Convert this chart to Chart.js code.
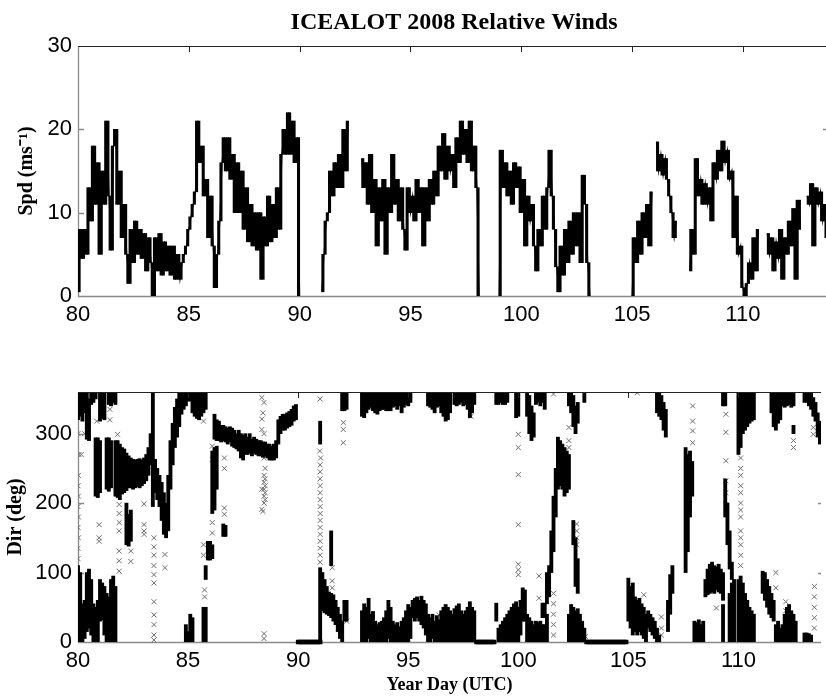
<!DOCTYPE html>
<html><head><meta charset="utf-8">
<script src="https://cdn.jsdelivr.net/npm/chart.js@4"></script>
<style>
html,body{margin:0;padding:0;background:#fff;width:826px;height:698px;overflow:hidden}
canvas{position:absolute;left:0}
</style></head><body>
<canvas id="spd" width="826" height="330" style="top:0"></canvas>
<canvas id="dir" width="826" height="358" style="top:340px"></canvas>
<script>
const titleText = 'ICEALOT 2008 Relative Winds';
const spdTitle = 'Spd (ms\u207B\u00B9)';
const dirTitle = 'Dir (deg)';
const xTitle = 'Year Day (UTC)';
const xTicks = [80, 85, 90, 95, 100, 105, 110];
const spdTicks = [0, 10, 20, 30];
const dirTicks = [0, 100, 200, 300];
const dayMin = 80, dayMax = 113.75;

// wind speed, one value every 0.1 day starting at day 80.0 (null = no data)
const spdStartDay = 80.0, spdStepDay = 0.1;
const spdValues = [
  0.5, 8, 4.5, 8, 5, 13, 9, 18, 11, 16,
  5, 15, 11, 21, 12, 5.5, 18, 20, 11, 15,
  7, 11, 5, 1.5, 8, 4, 9, 5, 8, 4.5,
  7.5, 3, 7, 4, 0, 7, 3, 7.5, 2.5, 6.5,
  3, 6, 2.5, 6, 2, 5, 2, 4, 5, 6,
  8, 9.5, 11, 12.5, 21, 16, 18, 12, 14, 7,
  12, 6, 1, 5, 9, 16, 19, 15, 19, 14,
  17, 10, 16, 10, 15, 8, 13, 6.5, 11, 6,
  10, 5.5, 10, 2, 9.5, 6, 12, 6.5, 11, 7,
  13, 8, 17, 20, 17, 22, 17, 21, 16, 19,
  0, null, null, null, null, null, null, null, null, null,
  0.5, 5, 9, 10, 15, 12, 16, 13, 17, 13,
  20, 15, 21, null, null, null, null, null, 16.5, 13,
  16, 11, 17, 10, 14, 6, 13, 9, 14, 5,
  13, 10, 17, 11, 14, 9, 13, 8, 5.5, 13,
  10, 12, 9, 14, 10, 13, 6, 13, 9, 14,
  11, 15, 12, 18, 15, 19.5, 14, 18, 15, 17,
  13, 19, 16, 21, 17, 20, 16, 21, 15, 18,
  13, 0, null, null, null, null, null, null, null, null,
  0, 17.5, 13, 16, 12, 15, 11, 16, 13, 15.5,
  10, 14, 6, 12, 9, 11, 6, 3, 8, 6,
  12, 8, 13, 17.5, 12, 8, 3.5, 0.5, 6, 2.5,
  8, 4, 9, 5, 10, 6, 10, 4, 14.5, 11,
  4, 0, null, null, null, null, null, null, null, null,
  null, null, null, null, null, null, null, null, null, null,
  0, 7, 4, 9, 5, 10, 7, 11, 6, 12.5,
  null, 18.5, 15, 17, 14.5, 16.5, 14, 12, 10, 7,
  9, null, null, null, null, null, 3, 8, 5, 16.5,
  12, 14, 11, 13.5, 11, 13, 9, 16, 14, 17.5,
  15, 18.6, 16, 17.5, 14, 15, 7, 12, 5, 6,
  1, 0, 1.5, 4, 2, 7, 3, 8, null, null,
  null, 7.5, 5, 7, 3, 6.5, 4.5, 8, 2, 7,
  5, 9, 6, 10.5, 2, 11.5, 8, null, null, 12,
  11, 13.5, 6, 13, 11, 12.5, 9, 11, 7
];

// wind direction bands: [first day, [[low, high] every 0.1 day ...]]
const dirRuns = [
  [80.0, [[320,360],[325,360],[318,360],[330,360],[292,360],[290,350],[342,360],[345,360],[350,360]]],
  [80.8, [[210,294],[208,294],[215,290]]],
  [81.0, [[318,360],[322,360],[320,360]]],
  [81.3, [[220,294],[217,294],[222,290]]],
  [81.4, [[342,360],[340,360],[345,360],[342,360]]],
  [81.7, [[210,290],[208,290],[205,285],[213,280],[215,278],[218,272],[222,268],[222,265],[220,263],[222,262],[224,263],[222,264],[225,262],[228,265],[232,270],[240,280],[255,300]]],
  [82.2, [[140,200],[138,184],[145,190]]],
  [83.4, [[195,360]]],
  [83.5, [[215,263],[205,250],[195,240],[175,230],[155,215],[150,200],[160,240],[220,290],[255,315],[280,338],[295,350],[310,360],[328,360],[335,360],[340,360],[347,360],[347,360],[330,360],[325,360],[322,360],[320,360],[325,360],[330,360],[335,360]]],
  [80.0, [[0,110],[0,100],[0,55],[5,60],[15,100],[20,105],[10,90],[0,55],[0,50],[0,60],[30,90],[32,85],[10,80],[0,70],[0,65],[0,90],[0,95],[0,80]]],
  [84.9, [[0,25],[0,15],[0,40],[0,35]]],
  [85.7, [[0,50],[0,50],[118,145],[118,145],[120,140]]],
  [85.8, [[90,110]]],
  [86.1, [[185,275],[190,280],[220,282]]],
  [86.6, [[152,170],[152,168]]],
  [86.2, [[292,328],[290,320],[290,318],[288,312],[290,312],[288,310],[285,308],[288,310],[282,308],[280,305],[278,300],[275,305],[265,300],[262,298],[270,300],[270,295],[272,300],[268,292],[272,295],[270,292],[268,290],[268,290],[266,288],[268,288],[265,285],[262,285],[262,282],[262,285],[265,290],[285,320],[300,325],[305,328],[305,328],[308,330],[310,332],[312,335],[318,340],[320,342]]],
  [91.0, [[0,107]]],
  [91.0, [[285,318]]],
  [91.1, [[45,100],[42,90],[40,80],[38,72],[35,70],[30,68],[25,60],[15,50],[5,40],[0,30],[30,60],[30,60]]],
  [91.5, [[110,160]]],
  [92.0, [[333,360],[333,360],[335,360]]],
  [92.9, [[325,360],[323,360],[330,360],[335,360],[338,360],[333,360],[330,360],[328,360],[333,360],[335,360],[335,360],[333,360],[333,360],[333,360],[338,360],[340,360],[335,360],[340,360],[330,360],[338,360],[342,360],[340,360],[345,360]]],
  [92.9, [[0,45],[0,55],[0,50],[5,63],[0,40],[0,44],[0,30],[0,25],[0,28],[0,30],[0,35],[0,45],[5,60],[0,50],[0,30],[0,25],[0,28],[0,22],[0,30],[0,35],[0,45],[0,54],[5,50],[35,60],[30,63],[35,65],[30,60],[25,66],[20,60],[10,55],[0,40],[0,35],[5,40],[0,30],[0,38],[0,32],[0,45],[0,50],[0,54],[0,50],[0,45],[0,40],[0,48],[0,52],[0,55],[0,45],[0,40],[0,45],[0,50],[0,58],[0,50],[0,45]]],
  [95.9, [[340,360],[338,360],[335,360],[330,360],[338,360],[340,360],[330,360],[325,360],[318,360],[320,360],[330,360]]],
  [97.1, [[342,360],[340,360],[342,360],[345,360],[340,360],[342,360],[335,360],[323,360],[330,360],[342,360]]],
  [99.0, [[342,360],[342,360],[345,360],[342,360],[342,360],[345,360]]],
  [99.0, [[30,56],[0,20],[0,25],[0,30],[0,35],[0,40],[0,45],[0,50],[0,55],[0,58],[0,50],[10,60],[30,78],[30,75],[0,40],[0,35],[0,30],[0,25],[0,30],[0,28],[0,30],[35,56],[35,56],[0,40]]],
  [101.1, [[0,25],[0,25]]],
  [99.9, [[323,360],[325,360]]],
  [100.4, [[325,360],[300,355],[290,340],[295,330],[342,360],[345,360],[340,360],[345,360],[335,360]]],
  [101.3, [[55,100],[65,110],[100,160],[130,210],[180,250],[220,295],[225,290],[220,285],[210,280],[215,275],[220,270]]],
  [102.3, [[340,360],[330,360],[310,355],[300,340],[315,345]]],
  [102.5, [[140,175],[80,150],[70,120]]],
  [102.3, [[0,40],[0,54],[0,50],[0,45],[0,48],[0,40],[0,30],[0,20]]],
  [103.0, [[345,358]]],
  [105.0, [[30,92],[20,80],[10,85],[15,65],[10,60],[15,63],[10,55],[5,50],[0,40],[20,45],[15,40],[10,35],[5,30],[0,20],[0,10]]],
  [106.8, [[15,60],[40,97],[70,110]]],
  [106.3, [[330,360],[325,360],[320,355],[305,345],[295,335]]],
  [107.6, [[100,280],[130,270],[180,275],[210,260]]],
  [108.0, [[0,30],[0,28],[0,32],[0,25],[0,30]]],
  [108.5, [[65,90],[68,105],[70,112],[72,115],[70,110],[75,108],[72,112],[70,105],[60,100]]],
  [109.3, [[340,360],[340,360]]],
  [109.4, [[180,235],[140,200],[105,160],[90,115]]],
  [109.3, [[0,54]]],
  [109.6, [[0,70],[0,85],[0,90]]],
  [110.0, [[270,360],[280,360],[300,360],[305,360],[310,360],[315,360],[318,360],[320,360]]],
  [110.0, [[0,90],[0,95],[0,85],[0,70],[0,60],[0,50],[0,45],[0,40]]],
  [111.1, [[70,102],[60,100],[50,90],[40,80],[35,70],[30,60]]],
  [111.5, [[330,360],[310,360],[305,360],[315,360],[320,360],[340,360],[338,360],[340,360],[342,360],[338,360],[340,360]]],
  [111.7, [[0,25],[0,30],[0,20],[0,25],[0,40],[0,50],[0,54],[0,45],[0,40],[0,30]]],
  [112.5, [[300,312]]],
  [113.0, [[0,13],[0,13],[0,12],[0,10]]],
  [113.0, [[345,360],[345,360],[340,360],[335,358],[325,352],[318,345],[295,330],[285,318]]]
];

// days where direction was logged as 0 (no data)
const dirZeroDays = [
  90.0, 90.1, 90.2, 90.3, 90.4, 90.5, 90.6, 90.7, 90.8, 90.9, 91.0,
  98.1, 98.2, 98.3, 98.4, 98.5, 98.6, 98.7, 98.8, 98.9,
  103.1, 103.2, 103.3, 103.4, 103.5, 103.6, 103.7, 103.8, 103.9, 104.0,
  104.1, 104.2, 104.3, 104.4, 104.5, 104.6, 104.7, 104.8, 104.9
];

// isolated direction readings [day, dir]
const dirScatter = [
  [80.0,120],[80.0,135],[80.02,150],[80.0,165],[80.02,180],[80.0,195],[80.02,210],[80.0,225],[80.02,240],[80.0,300],[80.04,270],[80.15,270],[80.3,300],
  [80.85,318],[80.96,169],[80.96,150],[80.96,145],[81.45,320],[81.45,335],[81.8,299],
  [81.87,198],[81.87,185],[81.87,172],[81.87,160],[81.87,131],[81.87,117],[81.87,102],
  [82.4,131],[82.4,116],[83.0,199],[83.0,169],[83.0,160],[83.0,155],
  [83.45,150],[83.45,137],[83.45,125],[83.45,110],[83.45,97],[83.45,85],[83.45,58],[83.45,39],[83.45,25],[83.45,10],[83.45,3],
  [83.95,126],[83.95,107],[85.7,318],[85.7,140],[85.7,125],[85.75,75],[85.75,65],
  [86.1,263],[86.1,282],[86.1,172],[86.1,157],[86.65,250],[86.65,265],[86.65,193],[86.65,184],
  [88.35,352],[88.35,321],[88.35,306],[88.35,220],[88.35,191],
  [88.45,200],[88.45,210],[88.45,220],[88.45,230],[88.45,240],[88.5,205],[88.5,215],[88.5,225],[88.5,235],[88.5,250],
  [88.4,188],[88.45,265],[88.45,280],[88.45,300],[88.4,330],[88.45,345],[88.45,5],[88.45,12],
  [91.0,350],[91.0,255],[91.0,245],[91.0,235],[91.0,225],[91.0,215],[91.0,205],[91.0,195],[91.0,185],[91.0,175],
  [91.0,165],[91.0,155],[91.0,145],[91.0,135],[91.0,125],[91.0,115],[90.98,275],[91.02,265],
  [91.55,107],[91.55,88],[91.55,78],[92.05,316],[92.05,306],[92.05,287],[92.2,30],
  [96.4,39],[96.95,36],[97.85,325],
  [100.0,299],[100.0,280],[100.0,241],[100.0,169],[100.0,112],[100.0,104],[100.0,97],
  [100.94,95],[100.94,63],[101.6,357],[101.6,70],[101.6,55],[101.6,40],[101.6,25],[101.6,10],
  [102.3,309],[102.3,290],[102.3,280],[102.65,170],[102.65,160],[102.65,150],[102.65,140],[103.05,8],
  [105.4,359],[105.7,68],[106.5,36],[106.5,20],[106.5,10],
  [107.92,340],[107.92,318],[107.92,304],[107.92,287],
  [109.0,49],[109.43,328],[109.43,302],[109.43,261],[109.43,232],[109.43,215],[109.43,198],
  [110.1,265],[110.1,250],[110.1,240],[110.1,225],[110.1,215],[110.1,200],[110.1,190],[110.1,180],[110.1,160],[110.1,150],[110.1,140],[110.1,125],[110.1,110],
  [111.7,100],[111.7,78],[112.15,58],[112.15,45],[112.5,290],[112.5,280],
  [113.4,309],[113.4,299],[113.45,80],[113.45,65],[113.45,50],[113.45,35],[113.45,20]
];

// ---------- build chart data ----------
const r1 = v => Math.round(v * 100) / 100;
const spdData = spdValues.map((v, i) => ({ x: r1(spdStartDay + i * spdStepDay), y: v }));
// the dense 1-minute trace fills the band between consecutive samples
const spdFill = [];
for (let i = 0; i + 1 < spdValues.length; i++) {
  const a = spdValues[i], b = spdValues[i + 1];
  if (a === null || b === null) continue;
  spdFill.push({ x: r1(spdStartDay + (i + 0.5) * spdStepDay), y: [Math.min(a, b), Math.max(a, b)] });
}
const barData = [];
dirRuns.forEach(([start, pairs]) => pairs.forEach((p, k) => barData.push({ x: r1(start + k * 0.1), y: [p[0], p[1]] })));
const scatterData = dirScatter.map(p => ({ x: p[0], y: p[1] }));
const zeroData = dirZeroDays.map(d => ({ x: d, y: 0 }));

const tickFont = { family: '"Liberation Sans", Arial, sans-serif', size: 22 };
const serifBold = (s) => ({ family: '"Liberation Serif", "Times New Roman", serif', size: s, weight: 'bold' });

const framePlugin = {
  id: 'frame',
  beforeDatasetsDraw(chart, args, opts) {
    const { ctx, chartArea: a, scales } = chart;
    const ys = scales.y;
    ctx.save();
    ctx.lineWidth = 1.3;
    ctx.strokeStyle = '#8a8a8a';
    ctx.beginPath();
    ctx.moveTo(a.left + 0.5, a.top);
    ctx.lineTo(a.left + 0.5, a.bottom + 0.5);
    ctx.lineTo(a.right, a.bottom + 0.5);
    opts.yTicks.forEach(v => {
      const py = Math.round(ys.getPixelForValue(v)) + 0.5;
      if (v > ys.min && v < ys.max) { ctx.moveTo(a.left, py); ctx.lineTo(a.left + 6, py); ctx.moveTo(a.right - 3, py); ctx.lineTo(a.right, py); }
    });
    ctx.stroke();
    ctx.restore();
  },
  afterDatasetsDraw(chart, args, opts) {
    const { ctx, chartArea: a, scales } = chart;
    const xs = scales.x;
    ctx.save();
    ctx.lineWidth = 1;
    ctx.strokeStyle = '#222';
    ctx.beginPath();
    ctx.moveTo(a.left, a.top + 0.5);
    ctx.lineTo(a.right, a.top + 0.5);
    opts.xTicks.forEach(v => {
      const px = Math.round(xs.getPixelForValue(v)) + 0.5;
      if (v > xs.min) { ctx.moveTo(px, a.top); ctx.lineTo(px, a.top + 6); }
    });
    ctx.stroke();
    ctx.restore();
  }
};

const titlePlugin = {
  id: 'mainTitle',
  afterDraw(chart, args, opts) {
    if (!opts.text) return;
    const { ctx, chartArea: a } = chart;
    ctx.save();
    ctx.font = 'bold 24px "Liberation Serif", "Times New Roman", serif';
    ctx.fillStyle = '#000';
    ctx.textAlign = 'center';
    ctx.textBaseline = 'alphabetic';
    ctx.fillText(opts.text, (a.left + a.right) / 2 + 2, 29);
    ctx.restore();
  }
};

function xScale(height, withTitle) {
  return {
    type: 'linear', min: dayMin, max: dayMax, offset: false,
    grid: { display: false, drawTicks: false }, border: { display: false },
    afterBuildTicks: s => { s.ticks = xTicks.map(v => ({ value: v })); },
    afterFit: s => { s.height = height; },
    ticks: { font: tickFont, color: '#000', padding: 6, maxRotation: 0, autoSkip: false, callback: v => String(v) },
    title: withTitle ? { display: true, text: xTitle, color: '#000', font: serifBold(18), padding: { top: 0, bottom: 2 } } : { display: false }
  };
}
function yScale(min, max, ticks, title, titlePad) {
  return {
    type: 'linear', min, max,
    grid: { display: false, drawTicks: false }, border: { display: false },
    afterBuildTicks: s => { s.ticks = ticks.map(v => ({ value: v })); },
    afterFit: s => { s.width = 78; },
    ticks: { font: tickFont, color: '#000', padding: 6, autoSkip: false, callback: v => String(v) },
    title: { display: true, text: title, color: '#000', font: serifBold(20), padding: { top: titlePad, bottom: 0 } }
  };
}

new Chart(document.getElementById('spd'), {
  type: 'bar',
  data: { datasets: [
    { type: 'line', data: spdData, borderColor: '#000', borderWidth: 1.2, pointRadius: 0, spanGaps: false, tension: 0, fill: false, order: 1 },
    { type: 'bar', data: spdFill, backgroundColor: '#000', borderWidth: 0, barThickness: 2.4, grouped: false, order: 2 }
  ] },
  options: {
    responsive: false, animation: false, devicePixelRatio: 1,
    layout: { padding: { top: 46, left: 0, right: 0, bottom: 0 } },
    scales: { x: xScale(34, false), y: yScale(0, 30, spdTicks, spdTitle, 15) },
    plugins: { legend: { display: false }, tooltip: { enabled: false },
      frame: { xTicks, yTicks: spdTicks }, mainTitle: { text: titleText } }
  },
  plugins: [framePlugin, titlePlugin]
});

new Chart(document.getElementById('dir'), {
  type: 'bar',
  data: { datasets: [
    { type: 'scatter', data: scatterData, pointStyle: 'crossRot', pointRadius: 3.5, borderColor: '#6e6e6e', backgroundColor: '#6e6e6e', borderWidth: 1, order: 3 },
    { type: 'bar', data: barData, backgroundColor: '#000', borderWidth: 0, barThickness: 3.2, grouped: false, order: 2 },
    { type: 'scatter', data: zeroData, pointStyle: 'rect', pointRadius: 3.2, borderColor: '#000', backgroundColor: '#000', borderWidth: 0, clip: false, order: 1 }
  ] },
  options: {
    responsive: false, animation: false, devicePixelRatio: 1,
    layout: { padding: { top: 52, left: 0, right: 0, bottom: 0 } },
    scales: { x: xScale(56, true), y: yScale(0, 360, dirTicks, dirTitle, 4) },
    plugins: { legend: { display: false }, tooltip: { enabled: false },
      frame: { xTicks, yTicks: dirTicks }, mainTitle: { text: '' } }
  },
  plugins: [framePlugin, titlePlugin]
});
</script>
</body></html>
